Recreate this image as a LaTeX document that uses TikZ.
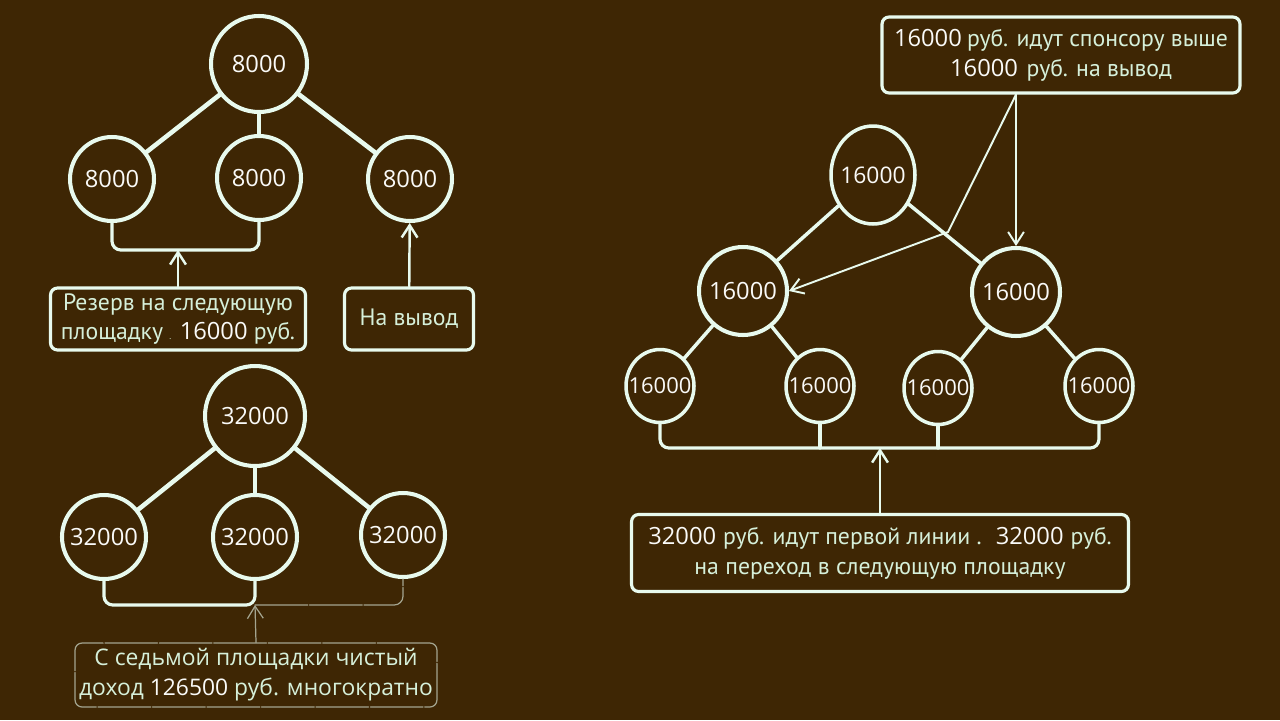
\documentclass[tikz,border=0pt]{standalone}
\usepackage{fontspec}
\setmainfont{PT Sans}
\newfontfamily\numfont{Open Sans}
\usetikzlibrary{arrows.meta,shapes.geometric}

\definecolor{bgcol}{RGB}{62,38,4}
\definecolor{linecol}{RGB}{232,250,238}
\definecolor{txtcol}{RGB}{214,240,218}
\definecolor{numcol}{RGB}{250,250,248}
\newcommand{\amt}[1]{{\numfont\color{numcol}#1}}

\begin{document}
\begin{tikzpicture}[x=0.02cm,y=-0.02cm,line cap=round]
  % Styles and colors
  \tikzset{
    bubble/.style={circle,draw=linecol,fill=bgcol,line width=2.3pt,inner sep=0pt,
      minimum size=1.68cm,text=numcol,font=\numfont\fontsize{13.5}{15}\selectfont},
    egg/.style={ellipse,draw=linecol,fill=bgcol,line width=2pt,inner sep=0pt},
    numtext/.style={text=numcol,font=\numfont\fontsize{12.5}{15}\selectfont},
    link/.style={draw=linecol,line width=2.6pt},
    bracket/.style={draw=linecol,line width=1.8pt,rounded corners=5pt},
    arr/.style={draw=linecol,line width=1.4pt,-{Straight Barb[length=7pt,width=9pt]}},
    infobox/.style={rectangle,draw=linecol,fill=bgcol,line width=1.8pt,rounded corners=4pt,
      align=center,text=txtcol,font=\fontsize{13.5}{17}\selectfont,inner sep=0pt},
    faint/.style={draw=linecol!60!bgcol,line width=0.7pt,dash pattern=on 30pt off 1pt}
  }
  \fill[bgcol] (0,0) rectangle (1280,720);
  \useasboundingbox (0,0) rectangle (1280,720);

  % First platform: 8000
  \node[bubble,minimum size=1.92cm] (a0) at (259,64) {8000};
  \node[bubble] (a1) at (112,179) {8000};
  \node[bubble] (a2) at (259,178) {8000};
  \node[bubble] (a3) at (410,179) {8000};
  \draw[link] (a0) -- (a1);
  \draw[link] (a0) -- (a2);
  \draw[link] (a0) -- (a3);
  \coordinate (ja) at (178,250);
  \draw[bracket] (a1.south) |- (ja) -| (a2.south);
  \node[infobox,minimum width=5.1cm,minimum height=1.24cm] (ra) at (178,319)
    {Резерв на следующую\\площадку {\tiny.} \amt{16000} руб.};
  \node[infobox,minimum width=2.58cm,minimum height=1.24cm] (wa) at (409,319) {На вывод};
  \draw[arr] (ra.north) -- (ja);
  \draw[arr] (wa) -- (a3);

  % Seventh platform: 32000
  \node[bubble,minimum size=2.0cm] (b0) at (255,416) {32000};
  \node[bubble] (b1) at (104,537) {32000};
  \node[bubble] (b2) at (255,537) {32000};
  \node[bubble] (b3) at (403,535) {32000};
  \draw[link] (b0) -- (b1);
  \draw[link] (b0) -- (b2);
  \draw[link] (b0) -- (b3);
  \coordinate (jb) at (255,605);
  \draw[bracket] (b1.south) |- (jb) -- (b2.south);
  \draw[bracket,faint] (jb) -| (b3.south);
  \node[infobox,faint,minimum width=7.24cm,minimum height=1.28cm,
    font=\numfont\fontsize{13}{17}\selectfont] (cb) at (256,675)
    {С седьмой площадки чистый\\доход \amt{126500} руб. многократно};
  \draw[arr,faint] (cb.north) -- (jb);

  % Second platform: 16000
  \node[egg,minimum width=1.68cm,minimum height=1.96cm,
    label={[numtext,font=\numfont\fontsize{13}{15}\selectfont]center:16000}] (c0) at (873,175) {};
  \node[bubble,minimum size=1.76cm] (c1) at (743,291) {16000};
  \node[bubble,minimum size=1.76cm] (c2) at (1016,292) {16000};
  \node[egg,minimum width=1.36cm,minimum height=1.46cm,label={[numtext]center:16000}] (d1) at (660,386) {};
  \node[egg,minimum width=1.36cm,minimum height=1.46cm,label={[numtext]center:16000}] (d2) at (820,386) {};
  \node[egg,minimum width=1.36cm,minimum height=1.46cm,label={[numtext]center:16000}] (d3) at (938,388) {};
  \node[egg,minimum width=1.36cm,minimum height=1.46cm,label={[numtext]center:16000}] (d4) at (1099,386) {};
  \draw[link,line width=2pt] (c0) -- (c1);
  \draw[link,line width=2pt] (c0) -- (c2);
  \draw[link,line width=2pt] (c1) -- (d1);
  \draw[link,line width=2pt] (c1) -- (d2);
  \draw[link,line width=2pt] (c2) -- (d3);
  \draw[link,line width=2pt] (c2) -- (d4);
  \coordinate (jc) at (880,448);
  \draw[bracket] (d1.south) |- (jc) -| (d4.south);
  \draw[bracket] (d2.south) -- (d2.south |- jc);
  \draw[bracket] (d3.south) -- (d3.south |- jc);

  \node[infobox,minimum width=9.94cm,minimum height=1.54cm] (pc) at (880,553)
    {\amt{32000}\hspace{4pt}руб. идут первой линии .\hspace{8pt}\amt{32000}\hspace{4pt}руб.\\на переход в следующую площадку};
  \draw[arr] (pc.north) -- (jc);

  \node[infobox,minimum width=7.16cm,minimum height=1.52cm] (sc) at (1061,55)
    {\amt{16000}\hspace{3pt}руб. идут спонсору выше\\\amt{16000}\hspace{5pt}руб. на вывод};
  \coordinate (sp) at (sc.south -| c2.north);
  \coordinate (kink) at (948,232);
  \draw[arr,line width=1.1pt] (sp) -- (c2.north);
  \draw[arr,line width=1.1pt] (sp) -- (kink) -- (c1.east);
\end{tikzpicture}
\end{document}
